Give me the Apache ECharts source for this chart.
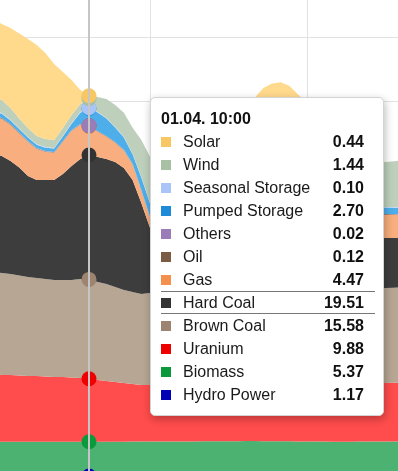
<!DOCTYPE html>
<html><head><meta charset="utf-8">
<script src="https://cdn.jsdelivr.net/npm/echarts@6/dist/echarts.min.js"></script>
<style>html,body{margin:0;padding:0;background:#fff;overflow:hidden}#chart{width:398px;height:471px}</style>
</head><body><div id="chart"></div>
<script>
const dateLabel = '01.04.';
const times = [
 '07:15','07:30','07:45','08:00','08:15','08:30','08:45','09:00','09:15','09:30','09:45','10:00',
 '10:15','10:30','10:45','11:00','11:15','11:30','11:45','12:00','12:15','12:30','12:45','13:00',
 '13:15','13:30','13:45','14:00','14:15','14:30','14:45','15:00','15:15','15:30','15:45','16:00',
 '16:15','16:30','16:45','17:00','17:15','17:30','17:45','18:00','18:15','18:30','18:45','19:00'];

const hydro = [
 1.20,1.20,1.20,1.19,1.19,1.19,1.18,1.18,1.18,1.18,1.17,1.17,
 1.17,1.17,1.16,1.16,1.16,1.16,1.15,1.15,1.15,1.15,1.15,1.15,
 1.15,1.15,1.15,1.15,1.15,1.15,1.15,1.15,1.15,1.15,1.15,1.15,
 1.15,1.15,1.15,1.15,1.15,1.15,1.16,1.16,1.16,1.16,1.17,1.17];
const biomass = [
 5.34,5.34,5.34,5.35,5.35,5.35,5.36,5.36,5.36,5.36,5.37,5.37,
 5.38,5.38,5.39,5.39,5.40,5.40,5.41,5.41,5.42,5.42,5.43,5.44,
 5.45,5.46,5.47,5.48,5.48,5.49,5.49,5.48,5.47,5.46,5.45,5.44,
 5.43,5.42,5.41,5.40,5.40,5.40,5.41,5.41,5.40,5.40,5.40,5.40];
const uranium = [
 10.62,10.46,10.46,10.38,10.31,10.31,10.23,10.15,10.15,10.07,9.99,9.88,
 9.68,9.52,9.36,9.21,9.05,8.89,8.89,8.90,8.92,8.94,8.95,8.97,
 8.98,9.00,9.00,9.01,9.02,9.02,9.03,9.04,9.05,9.06,9.07,9.08,
 9.09,9.10,9.11,9.12,9.13,9.14,9.15,9.16,9.18,9.20,9.21,9.22];
const brownCoal = [
 16.00,16.00,15.84,15.69,15.53,15.37,15.29,15.22,15.22,15.29,15.53,15.58,
 15.37,15.22,14.90,14.59,14.43,14.27,14.43,14.50,14.55,14.60,14.62,14.65,
 14.68,14.70,14.72,14.74,14.75,14.76,14.78,14.80,14.80,14.82,14.83,14.84,
 14.85,14.86,14.87,14.88,14.88,14.89,14.90,14.90,14.90,14.90,14.92,14.95];
const hardCoal = [
 18.67,18.35,17.73,16.94,15.84,15.37,15.53,15.69,16.63,17.88,18.82,19.51,
 19.61,19.61,19.61,19.14,17.57,14.27,10.20,9.60,9.20,9.00,8.90,8.80,
 8.70,8.60,8.50,8.50,8.40,8.40,8.30,8.30,8.20,8.20,8.20,8.10,
 8.10,8.00,8.00,8.00,7.90,7.90,7.90,7.90,7.80,7.84,7.80,7.75];
const gas = [
 5.66,5.82,5.66,5.35,5.35,4.88,4.41,4.25,5.04,5.51,5.35,4.47,
 3.94,3.47,3.00,2.70,2.40,1.90,1.60,1.60,1.70,1.80,1.90,2.00,
 2.10,2.20,2.30,2.40,2.50,2.60,2.70,2.80,2.90,3.00,3.10,3.20,
 3.30,3.35,3.40,3.45,3.50,3.50,3.55,3.60,3.60,3.62,3.60,3.60];
const oil = [
 0.13,0.13,0.13,0.13,0.12,0.12,0.12,0.12,0.12,0.12,0.12,0.12,
 0.12,0.12,0.12,0.12,0.12,0.12,0.12,0.12,0.12,0.12,0.12,0.12,
 0.12,0.12,0.12,0.12,0.12,0.12,0.12,0.12,0.12,0.12,0.12,0.12,
 0.12,0.12,0.12,0.12,0.12,0.12,0.12,0.12,0.12,0.12,0.12,0.12];
const others = [
 0.02,0.02,0.02,0.02,0.02,0.02,0.02,0.02,0.02,0.02,0.02,0.02,
 0.02,0.02,0.02,0.02,0.02,0.02,0.02,0.02,0.02,0.02,0.02,0.02,
 0.02,0.02,0.02,0.02,0.02,0.02,0.02,0.02,0.02,0.02,0.02,0.02,
 0.02,0.02,0.02,0.02,0.02,0.02,0.02,0.02,0.02,0.02,0.02,0.02];
const pumpedStorage = [
 0.68,0.68,0.53,0.53,0.53,0.53,0.53,0.53,0.68,1.00,1.78,2.70,
 2.88,2.72,2.25,1.94,1.47,1.94,2.10,2.00,1.90,1.80,1.70,1.60,
 1.50,1.40,1.30,1.30,1.20,1.20,1.10,1.10,1.10,1.00,1.00,1.00,
 1.00,1.00,1.00,1.00,1.00,1.00,1.00,1.00,1.00,1.00,1.00,1.00];
const seasonalStorage = [
 0.10,0.10,0.10,0.10,0.10,0.10,0.10,0.10,0.10,0.10,0.10,0.10,
 0.10,0.10,0.10,0.10,0.10,0.10,0.10,0.10,0.10,0.10,0.10,0.10,
 0.10,0.10,0.10,0.10,0.10,0.10,0.10,0.10,0.10,0.10,0.10,0.10,
 0.10,0.10,0.10,0.10,0.10,0.10,0.10,0.10,0.10,0.10,0.10,0.10];
const wind = [
 2.04,2.04,1.88,1.57,1.41,1.25,1.25,1.25,1.25,1.25,1.25,1.44,
 2.35,2.98,3.45,3.76,4.08,5.80,7.22,7.30,7.20,7.10,7.00,7.00,
 6.90,6.90,6.80,6.80,6.80,6.90,6.90,6.90,7.00,7.00,7.00,7.10,
 7.10,7.10,7.10,7.10,7.10,7.00,7.00,7.00,7.00,7.06,7.20,7.40];
const solar = [
 12.39,11.92,12.55,13.33,13.96,14.27,13.49,11.92,8.78,5.49,2.20,0.44,
 0,0,0,0,0,0,0,1.6,3.3,4.6,5.9,6.8,
 7.8,8.6,9.4,9.9,10.4,10.5,10.8,12.2,12.8,13.0,12.3,10.8,
 9.6,8.7,7.5,6.3,5.0,3.9,2.8,1.8,0.85,0,0,0];

const seriesNames = ['Hydro Power','Biomass','Uranium','Brown Coal','Hard Coal','Gas','Oil','Others','Pumped Storage','Seasonal Storage','Wind','Solar'];
const seriesData = [hydro,biomass,uranium,brownCoal,hardCoal,gas,oil,others,pumpedStorage,seasonalStorage,wind,solar];
const markerColors = ['#0000b4','#0a9a3c','#ee0000','#9c8470','#333333','#f5904c','#7a5c44','#9a7cb6','#1e8bd8','#a9c4f7','#a8c0a4','#f6c763'];
const areaColors = ['#4646c8','#4cb272','#ff4c4c','#b6a693','#3d3d3d','#f8ae7e','#9a8070','#b8a4cc','#4eaeea','#bcd2f8','#bed0bc','#ffd98c'];
const hoverIndex = 11;

const chart = echarts.init(document.getElementById('chart'), null, {renderer:'canvas'});
const option = {
  animation: false,
  grid: {left: -6.9, right: -4.9, top: -26.6, bottom: -12.4, containLabel: false, outerBoundsMode: 'none'},
  xAxis: {
    type: 'category', data: times, boundaryGap: false,
    axisLine: {show: false}, axisTick: {show: false}, axisLabel: {show: false},
    splitLine: {show: true, interval: function (i) { return i % 18 === 0; }, lineStyle: {color: '#e2e2e2', width: 1}}
  },
  yAxis: {
    type: 'value', min: 0, max: 80, interval: 10,
    axisLine: {show: false}, axisTick: {show: false}, axisLabel: {show: false},
    splitLine: {lineStyle: {color: '#e2e2e2', width: 1}}
  },
  tooltip: {
    trigger: 'axis', triggerOn: 'none', alwaysShowContent: true,
    transitionDuration: 0,
    position: [150, 97],
    backgroundColor: '#fff', borderColor: '#d4d4d4', borderWidth: 1, borderRadius: 5,
    padding: [9, 8, 9, 10],
    extraCssText: 'box-shadow: 1px 3px 8px rgba(0,0,0,0.28);',
    axisPointer: {type: 'line', lineStyle: {color: '#c6c6c6', width: 2, type: 'solid'}, label: {show: false}},
    formatter: function (params) {
      const idx = params[0].dataIndex;
      let html = '<div style="width:214px;font-family:\'Liberation Sans\',Arial,sans-serif;font-size:16px;color:#1a1a1a;line-height:21px">';
      html += '<div style="font-weight:bold;height:23px;display:flex;align-items:center;color:#111">' + dateLabel + ' ' + times[idx] + '</div>';
      for (let k = seriesNames.length - 1; k >= 0; k--) {
        const sep = seriesNames[k] === 'Hard Coal';
        html += '<div style="display:flex;align-items:center;height:23px;box-sizing:border-box;' +
          (sep ? 'border-top:1px solid #777;border-bottom:1px solid #777;' : '') + '">' +
          '<span style="display:inline-block;width:10px;height:10px;background:' + markerColors[k] + ';margin-right:12px;flex:none"></span>' +
          '<span style="flex:1">' + seriesNames[k] + '</span>' +
          '<span style="font-weight:bold;padding-right:11px;color:#111">' + seriesData[k][idx].toFixed(2) + '</span></div>';
      }
      html += '</div>';
      return html;
    }
  },
  series: seriesNames.map(function (name, i) {
    return {
      name: name, type: 'line', stack: 'total', data: seriesData[i],
      showSymbol: false, symbol: 'circle', symbolSize: 15,
      lineStyle: {width: 0},
      areaStyle: {color: areaColors[i], opacity: 1},
      itemStyle: {color: markerColors[i], borderWidth: 0},
      emphasis: {scale: false, lineStyle: {width: 0}, areaStyle: {color: areaColors[i], opacity: 1}, itemStyle: {color: markerColors[i], borderWidth: 0}}
    };
  })
};
chart.setOption(option);
chart.dispatchAction({type: 'showTip', seriesIndex: 0, dataIndex: hoverIndex});
</script></body></html>
